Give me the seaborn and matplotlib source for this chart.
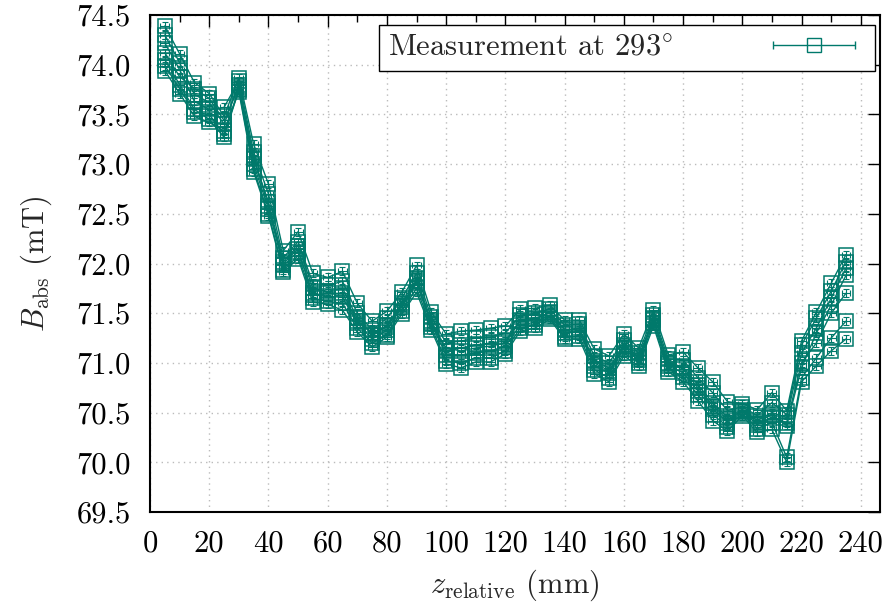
import numpy as np
import pandas as pd
import matplotlib
matplotlib.use("Agg")
import matplotlib.pyplot as plt
import seaborn as sns
from matplotlib.ticker import MultipleLocator, FormatStrFormatter
from matplotlib.legend_handler import HandlerErrorbar
from matplotlib.container import ErrorbarContainer

# ---------------- data ----------------
z_mm = [5, 10, 15, 20, 25, 30, 35, 40, 45, 50, 55, 60, 65, 70, 75, 80, 85, 90, 95, 100,
        105, 110, 115, 120, 125, 130, 135, 140, 145, 150, 155, 160, 165, 170, 175, 180,
        185, 190, 195, 200, 205, 210, 215, 220, 225, 230, 235]

run_a = [74.30, 74.02, 73.70, 73.62, 73.40, 73.80, 73.05, 72.62, 72.02, 72.18, 71.75, 71.72,
         71.75, 71.45, 71.28, 71.38, 71.60, 71.85, 71.42, 71.12, 71.15, 71.18, 71.20, 71.22,
         71.43, 71.45, 71.50, 71.33, 71.35, 71.02, 70.95, 71.18, 71.06, 71.45, 71.00, 70.96,
         70.78, 70.60, 70.45, 70.53, 70.42, 70.50, 70.45, 71.10, 71.35, 71.65, 71.95]
run_b = [74.05, 73.80, 73.55, 73.45, 73.27, 73.75, 72.95, 72.50, 71.93, 72.08, 71.65, 71.62,
         71.60, 71.35, 71.20, 71.28, 71.52, 71.75, 71.36, 71.02, 71.00, 71.05, 71.05, 71.12,
         71.35, 71.38, 71.46, 71.26, 71.27, 70.93, 70.85, 71.10, 71.00, 71.40, 70.94, 70.86,
         70.68, 70.48, 70.36, 70.49, 70.34, 70.40, 70.05, 70.85, 71.05, 71.25, 71.42]
run_c = [74.39, 74.11, 73.82, 73.71, 73.48, 73.87, 73.20, 72.80, 72.13, 72.32, 71.90, 71.86,
         71.92, 71.60, 71.42, 71.52, 71.71, 71.98, 71.51, 71.29, 71.32, 71.33, 71.35, 71.37,
         71.54, 71.55, 71.58, 71.43, 71.43, 71.14, 71.07, 71.29, 71.15, 71.53, 71.08, 71.11,
         70.95, 70.81, 70.61, 70.59, 70.53, 70.70, 70.52, 71.22, 71.51, 71.80, 72.09]
run_d = [73.94, 73.71, 73.48, 73.42, 73.33, 73.73, 72.92, 72.48, 71.91, 72.05, 71.61, 71.59,
         71.53, 71.31, 71.16, 71.26, 71.49, 71.71, 71.33, 70.99, 70.95, 71.01, 71.01, 71.09,
         71.32, 71.35, 71.44, 71.24, 71.24, 70.89, 70.81, 71.07, 70.97, 71.37, 70.91, 70.81,
         70.62, 70.42, 70.31, 70.47, 70.30, 70.33, 70.00, 70.81, 70.97, 71.12, 71.24]
run_e = [74.22, 73.95, 73.63, 73.55, 73.57, 73.84, 73.12, 72.70, 72.06, 72.22, 71.80, 71.78,
         71.82, 71.50, 71.33, 71.45, 71.65, 71.90, 71.46, 71.20, 71.22, 71.25, 71.26, 71.30,
         71.48, 71.50, 71.54, 71.38, 71.39, 71.07, 71.00, 71.23, 71.10, 71.48, 71.04, 71.03,
         70.85, 70.70, 70.52, 70.56, 70.47, 70.60, 70.48, 71.18, 71.45, 71.72, 72.02]
run_f = [74.12, 73.88, 73.76, 73.66, 73.44, 73.78, 73.00, 72.55, 71.98, 72.12, 71.70, 71.67,
         71.66, 71.40, 71.24, 71.33, 71.56, 71.80, 71.39, 71.08, 71.08, 71.10, 71.12, 71.17,
         71.38, 71.41, 71.48, 71.30, 71.31, 70.97, 70.90, 71.14, 71.03, 71.43, 70.97, 70.90,
         70.72, 70.54, 70.40, 70.51, 70.38, 70.45, 70.40, 71.00, 71.20, 71.50, 71.70]
run_g = [73.99, 73.76, 73.52, 73.50, 73.30, 73.76, 73.08, 72.58, 72.00, 72.15, 71.68, 71.70,
         71.70, 71.42, 71.30, 71.36, 71.58, 71.82, 71.40, 71.15, 71.12, 71.15, 71.17, 71.20,
         71.42, 71.44, 71.51, 71.34, 71.33, 71.00, 70.92, 71.16, 71.05, 71.44, 70.99, 70.94,
         70.75, 70.57, 70.43, 70.52, 70.40, 70.48, 70.37, 70.95, 71.30, 71.58, 71.88]

runs = {"A": run_a, "B": run_b, "C": run_c, "D": run_d, "E": run_e, "F": run_f, "G": run_g}
z_err = 1.5      # mm
b_err = 0.04     # mT
legend_label = "Measurement at $293^{\\circ}$"

df = pd.concat([pd.DataFrame({"z": z_mm, "B": v, "run": k}) for k, v in runs.items()],
               ignore_index=True)

# ---------------- style ----------------
sns.set_theme(style="white")
plt.rcParams["font.family"] = ["cmr10", "DejaVu Serif"]
plt.rcParams["mathtext.fontset"] = "cm"
plt.rcParams["axes.unicode_minus"] = False
plt.rcParams["axes.formatter.use_mathtext"] = True

teal = "#00796b"
fs = 22

fig = plt.figure(figsize=(8.83, 6.10), dpi=100)
ax = fig.add_axes([150 / 883, 1 - 512 / 610, 730 / 883, 497 / 610])

sns.lineplot(data=df, x="z", y="B", units="run", estimator=None, color=teal,
             marker="s", markersize=9.5, markerfacecolor="none", markeredgecolor=teal,
             markeredgewidth=1.1, linewidth=1.0, legend=False, ax=ax)

for k, v in runs.items():
    ax.errorbar(z_mm, v, xerr=z_err, yerr=b_err, fmt="none", ecolor=teal,
                elinewidth=0.8, capsize=2.5, capthick=0.8)

proxy = ax.errorbar([np.nan], [np.nan], xerr=[1.0], fmt="s", color=teal,
                    markerfacecolor="none", markersize=9.5, markeredgewidth=1.0,
                    elinewidth=1.0, capsize=3, label=legend_label)

ax.set_xlim(0, 246.5)
ax.set_ylim(69.5, 74.5)
ax.xaxis.set_major_locator(MultipleLocator(20))
ax.xaxis.set_minor_locator(MultipleLocator(10))
ax.yaxis.set_major_locator(MultipleLocator(0.5))
ax.yaxis.set_major_formatter(FormatStrFormatter("%.1f"))
ax.xaxis.set_major_formatter(FormatStrFormatter("%d"))

ax.tick_params(which="both", direction="in", top=True, right=True, colors="black",
               labelsize=fs, width=1.0)
ax.tick_params(axis="y", which="major", length=8.5, pad=14)
ax.tick_params(axis="x", which="major", length=8.5, pad=13)
ax.tick_params(which="minor", length=5)

ax.grid(True, which="major", color="#bbbbbb", linestyle=(0, (1, 3)), linewidth=1.0)
for s in ax.spines.values():
    s.set_color("black")
    s.set_linewidth(1.5)

ax.set_xlabel("$z_{\\mathrm{relative}}$ (mm)", fontsize=fs, labelpad=7)
ax.set_ylabel("$B_{\\mathrm{abs}}$ (mT)", fontsize=fs, labelpad=16)

leg = ax.legend(handles=[proxy], labels=[legend_label], loc="upper right",
                bbox_to_anchor=(0.993, 0.980), borderaxespad=0, markerfirst=False,
                fontsize=fs, handlelength=3.4, handletextpad=2.9, borderpad=0.3,
                fancybox=False, framealpha=1, edgecolor="black",
                handler_map={ErrorbarContainer: HandlerErrorbar(xerr_size=1.34)})
leg.get_frame().set_linewidth(1.0)

fig.savefig("out.png", dpi=100)
